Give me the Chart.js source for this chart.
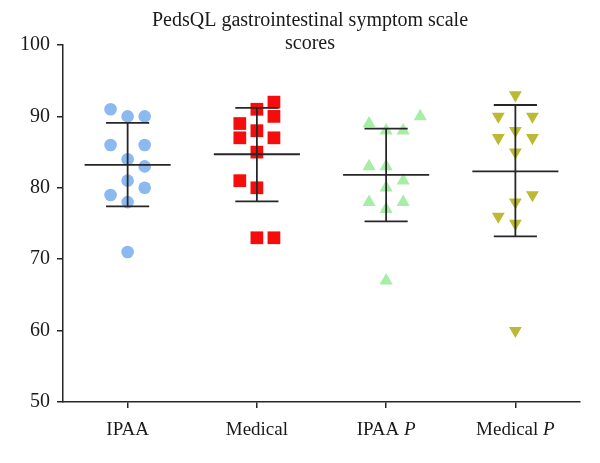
<!DOCTYPE html>
<html>
<head>
<meta charset="utf-8">
<script src="https://cdn.jsdelivr.net/npm/chart.js@4/dist/chart.umd.min.js"></script>
<style>
	html, body { margin: 0; padding: 0; background: #fff; }
</style>
</head>
<body>
<canvas id="myChart" width="600" height="463"></canvas>
<script>
// groups on the x axis (second part is written in italics)
const groupNames = ["IPAA", "Medical", "IPAA", "Medical"]
const groupSuffix = ["", "", "P", "P"]

// scores, with the column each point sits in
const ipaaScores = [91, 90, 90, 86, 86, 84, 83, 81, 80, 79, 78, 71]
const ipaaCols = [-1, 0, 1, -1, 1, 0, 1, 0, 1, -1, 0, 0]
const medicalScores = [92, 91, 90, 89, 88, 87, 87, 85, 81, 80, 73, 73]
const medicalCols = [1, 0, 1, -1, 0, -1, 1, 0, -1, 0, 0, 1]
const ipaaPScores = [90, 89, 88, 88, 83, 83, 81, 80, 78, 78, 77, 67]
const ipaaPCols = [2, -1, 0, 1, -1, 0, 1, 0, -1, 1, 0, 0]
const medicalPScores = [93, 90, 90, 88, 87, 87, 85, 79, 78, 76, 75, 60]
const medicalPCols = [0, -1, 1, 0, -1, 1, 0, 1, 0, -1, 0, 0]

// mean and mean +/- SD bars
const means = [83.2, 84.7, 81.8, 82.3]
const upper = [89.1, 91.2, 88.3, 91.6]
const lower = [77.4, 78.1, 75.3, 73.2]

const yTicks = [50, 60, 70, 80, 90, 100]

const serif = "'Liberation Serif', 'DejaVu Serif', serif"
const ink = "#262626"
const colStep = 0.132

function points(scores, cols, group) {
	return scores.map((v, i) => ({ x: group + 1 + cols[i] * colStep, y: v }))
}

const pointSets = [
	{ data: points(ipaaScores, ipaaCols, 0), pointStyle: "circle", pointRadius: 6.3, color: "#8cb9ef" },
	{ data: points(medicalScores, medicalCols, 1), pointStyle: "rect", pointRadius: 9, color: "#f50d0d" },
	{ data: points(ipaaPScores, ipaaPCols, 2), pointStyle: "triangle", pointRadius: 7.6, color: "#a6eea6" },
	{ data: points(medicalPScores, medicalPCols, 3), pointStyle: "triangle", pointRadius: 7.4, color: "#bcb932", rotation: 180 }
]

let datasets = []

// bars first so they are drawn on top
for (let g = 0; g < means.length; g++) {
	const c = g + 1
	const segs = [
		[[c - 0.333, means[g]], [c + 0.333, means[g]]],
		[[c, lower[g]], [c, upper[g]]],
		[[c - 0.167, upper[g]], [c + 0.167, upper[g]]],
		[[c - 0.167, lower[g]], [c + 0.167, lower[g]]]
	]
	segs.forEach(s => {
		datasets.push({
			data: s.map(p => ({ x: p[0], y: p[1] })),
			showLine: true,
			borderColor: ink,
			borderWidth: 1.8,
			pointRadius: 0,
			order: 0
		})
	})
}

pointSets.forEach(p => {
	datasets.push({
		data: p.data,
		pointStyle: p.pointStyle,
		pointRadius: p.pointRadius,
		pointRotation: p.rotation || 0,
		backgroundColor: p.color,
		borderColor: p.color,
		borderWidth: 0,
		order: 1
	})
})

// title and x labels are drawn by hand (overlapping title, italic P)
const textPlugin = {
	id: "textPlugin",
	afterDraw(chart) {
		const ctx = chart.ctx
		const xs = chart.scales.x
		ctx.save()
		ctx.fillStyle = "#1a1a1a"
		ctx.textBaseline = "middle"
		ctx.textAlign = "left"

		ctx.font = "20px " + serif
		const t1 = "PedsQL gastrointestinal symptom scale"
		const t2 = "scores"
		ctx.fillText(t1, 310 - ctx.measureText(t1).width / 2, 21)
		ctx.fillText(t2, 310 - ctx.measureText(t2).width / 2, 44)

		for (let i = 0; i < groupNames.length; i++) {
			const cx = xs.getPixelForValue(i + 1)
			const y = 430
			ctx.font = "19px " + serif
			const a = groupSuffix[i] ? groupNames[i] + " " : groupNames[i]
			const wa = ctx.measureText(a).width
			ctx.font = "italic 19px " + serif
			const wb = groupSuffix[i] ? ctx.measureText(groupSuffix[i]).width : 0
			let x0 = cx - (wa + wb) / 2
			ctx.font = "19px " + serif
			ctx.fillText(a, x0, y)
			if (groupSuffix[i]) {
				ctx.font = "italic 19px " + serif
				ctx.fillText(groupSuffix[i], x0 + wa, y)
			}
		}
		ctx.restore()
	}
}

new Chart("myChart", {
	type: "scatter",
	data: { datasets: datasets },
	plugins: [textPlugin],
	options: {
		responsive: false,
		animation: false,
		layout: { padding: { top: 45, right: 20, bottom: 0, left: 0 } },
		plugins: {
			legend: { display: false },
			tooltip: { enabled: false }
		},
		scales: {
			x: {
				type: "linear",
				min: 0.5,
				max: 4.5,
				afterBuildTicks: s => { s.ticks = groupNames.map((n, i) => ({ value: i + 1 })) },
				afterFit: s => { s.height = 61 },
				ticks: { display: false },
				grid: { drawOnChartArea: false, drawTicks: true, tickLength: 6, color: ink, lineWidth: 1.5 },
				border: { color: ink, width: 1.5 }
			},
			y: {
				min: 50,
				max: 100,
				afterBuildTicks: s => { s.ticks = yTicks.map(v => ({ value: v })) },
				afterFit: s => { s.width = 63 },
				ticks: { color: "#1a1a1a", font: { family: serif, size: 20 }, padding: 7 },
				grid: { drawOnChartArea: false, drawTicks: true, tickLength: 6, color: ink, lineWidth: 1.5 },
				border: { color: ink, width: 1.5 }
			}
		}
	}
})
</script>
</body>
</html>
